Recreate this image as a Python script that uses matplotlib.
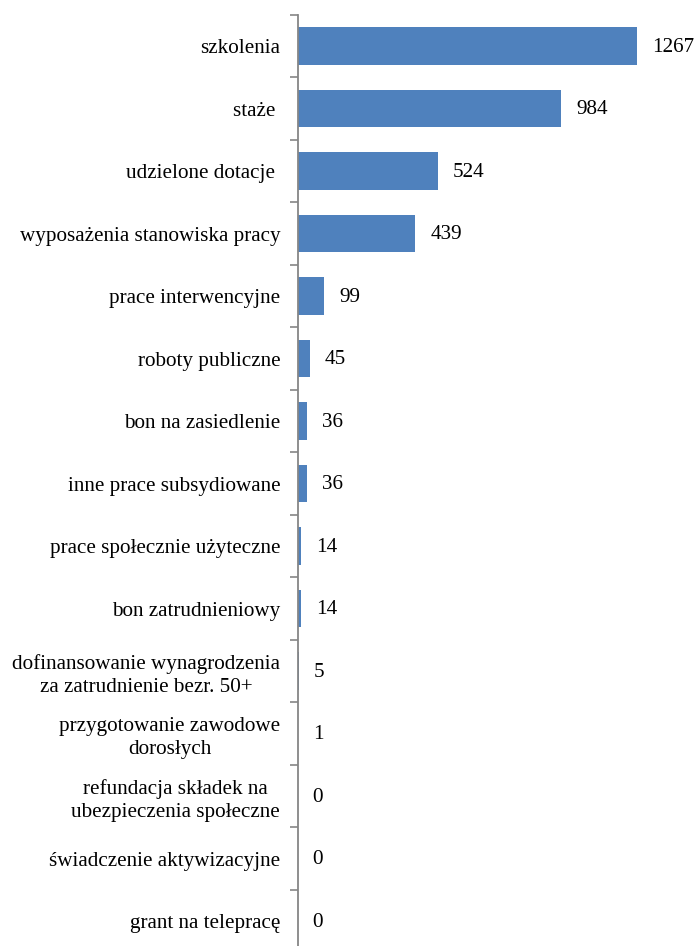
import matplotlib.pyplot as plt
from matplotlib.ticker import FixedLocator

plt.rcParams['font.family'] = ['Liberation Serif', 'DejaVu Serif']

# dane
kategorie = ['szkolenia', 'staże ', 'udzielone dotacje ', 'wyposażenia stanowiska pracy',
             'prace interwencyjne', 'roboty publiczne', 'bon na zasiedlenie',
             'inne prace subsydiowane', 'prace społecznie użyteczne', 'bon zatrudnieniowy',
             'dofinansowanie wynagrodzenia\nza zatrudnienie bezr. 50+',
             'przygotowanie zawodowe\ndorosłych',
             'refundacja składek na\nubezpieczenia społeczne',
             'świadczenie aktywizacyjne', 'grant na telepracę']
wartosci = [1267, 984, 524, 439, 99, 45, 36, 36, 14, 14, 5, 1, 0, 0, 0]

W, H = 698, 946
fig = plt.figure(figsize=(W / 100, H / 100), dpi=100)
ax = fig.add_axes([297.5 / W, 1 - 952.5 / H, 400 / W, 937.5 / H])

n = len(kategorie)
poz = list(range(n))
ax.barh(poz, wartosci, height=0.6, color='#4F81BD')
ax.set_ylim(n - 0.5, -0.5)
ax.set_xlim(0, 400 / 0.268)

for y, v in zip(poz, wartosci):
    ax.annotate(str(v), xy=(v, y), xytext=(15, -1), textcoords='offset pixels',
                va='center', ha='left', fontsize=15.2)

ax.set_yticks(poz)
ax.set_yticklabels(kategorie, fontsize=15.2, multialignment='center', linespacing=1.3)
ax.tick_params(axis='y', which='major', length=0, pad=12.5)
ax.yaxis.set_minor_locator(FixedLocator([i - 0.5 for i in range(n + 1)]))
ax.tick_params(axis='y', which='minor', length=6, width=1.2, color='#868686')

ax.set_xticks([])
for s in ['top', 'right', 'bottom']:
    ax.spines[s].set_visible(False)
ax.spines['left'].set_color('#868686')
ax.spines['left'].set_linewidth(1.3)

fig.savefig('out.png', dpi=100)
